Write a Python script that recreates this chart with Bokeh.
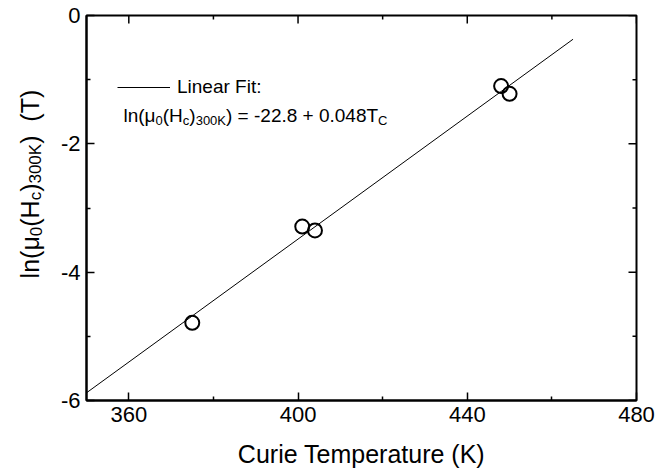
import math
from bokeh.plotting import figure
from bokeh.layouts import row
from bokeh.models import (Range1d, FixedTicker, Label, Legend, LegendItem,
                          CustomJSTickFormatter)
from bokeh.embed import file_html
from bokeh.resources import INLINE

# ---- data ----
curie_t = [375, 401, 404, 448, 450]
ln_hc = [-4.79, -3.29, -3.35, -1.10, -1.22]
fit_x = [350, 465]
fit_y = [-5.88, -0.37]

x_lo, x_hi = 350, 480
y_lo, y_hi = -6, 0
x_major = [360, 400, 440, 480]
x_minor = [380, 420, 460]
y_major = [0, -2, -4, -6]
y_minor = [-1, -3, -5]

FONT = "Liberation Sans"

# Arial / Liberation Sans advance widths (per 1000 em)
ADV = {"l": 222, "n": 556, "(": 333, ")": 333, "μ": 576, "H": 722, "c": 500,
       "K": 667, " ": 278, "=": 584, "-": 333, ".": 278, "+": 584, "T": 611,
       "C": 722}
for d in "0123456789":
    ADV[d] = 556


def text_width(s, size):
    return sum(ADV.get(ch, 556) for ch in s) * size / 1000.0


LEFT_W = 50
TOTAL_H = 474
FW, FH = 550, 385
p = figure(frame_width=FW, frame_height=FH, output_backend="svg",
           toolbar_location=None, x_range=Range1d(x_lo, x_hi), y_range=Range1d(y_lo, y_hi),
           min_border_left=86 - LEFT_W, min_border_top=15, min_border_right=19,
           min_border_bottom=TOTAL_H - 15 - FH)
p.xgrid.visible = False
p.ygrid.visible = False
p.outline_line_color = "black"
p.outline_line_width = 2
p.background_fill_color = "white"
p.border_fill_color = "white"


def style_axis(ax):
    ax.axis_line_color = "black"
    ax.axis_line_width = 2
    ax.major_tick_line_color = "black"
    ax.major_tick_line_width = 1.5
    ax.minor_tick_line_color = "black"
    ax.minor_tick_line_width = 1.5
    ax.major_tick_in = 8
    ax.major_tick_out = 0
    ax.minor_tick_in = 4
    ax.minor_tick_out = 0
    ax.major_label_text_font = FONT
    ax.major_label_text_font_size = "22px"
    ax.major_label_text_color = "black"
    ax.major_label_standoff = 6
    ax.formatter = CustomJSTickFormatter(code="return String(tick);")


p.xaxis.ticker = FixedTicker(ticks=x_major, minor_ticks=x_minor)
p.yaxis.ticker = FixedTicker(ticks=y_major, minor_ticks=y_minor)
style_axis(p.xaxis[0])
style_axis(p.yaxis[0])
p.xaxis.axis_label = "Curie Temperature (K)"
p.xaxis.axis_label_text_font = FONT
p.xaxis.axis_label_text_font_size = "25px"
p.xaxis.axis_label_text_font_style = "normal"
p.xaxis.axis_label_text_color = "black"
p.xaxis.axis_label_standoff = 15

# mirrored ticks on the top and right edges (half of each dash is clipped by the frame)
p.scatter(x_major, [y_hi] * len(x_major), marker="dash", size=16, angle=math.pi / 2,
          line_color="black", line_width=1.5)
p.scatter(x_minor, [y_hi] * len(x_minor), marker="dash", size=8, angle=math.pi / 2,
          line_color="black", line_width=1.5)
p.scatter([x_hi] * len(y_major), y_major, marker="dash", size=16,
          line_color="black", line_width=1.5)
p.scatter([x_hi] * len(y_minor), y_minor, marker="dash", size=8,
          line_color="black", line_width=1.5)

# ---- data ----
fit_r = p.line(fit_x, fit_y, line_color="black", line_width=1)
p.scatter(curie_t, ln_hc, marker="circle", size=14, fill_color=None,
          line_color="black", line_width=2)

legend = Legend(items=[LegendItem(label="Linear Fit:", renderers=[fit_r])],
                location=(31, 302), glyph_width=53, glyph_height=20, label_height=20,
                label_standoff=7, padding=0, margin=0, border_line_color=None,
                background_fill_alpha=0, label_text_font=FONT,
                label_text_font_size="19px", label_text_color="black")
p.add_layout(legend)


def rich_text(fig, pieces, anchor_x, anchor_y, start_x, start_y, size, sub_size,
              sub_drop, vertical=False):
    pos = 0.0
    for txt, is_sub in pieces:
        fs = sub_size if is_sub else size
        drop = sub_drop if is_sub else 0
        if txt.strip():
            if vertical:
                xo, yo, ang = start_x + drop, start_y + pos, math.pi / 2
            else:
                xo, yo, ang = start_x + pos, start_y - drop, 0
            fig.add_layout(Label(x=anchor_x, y=anchor_y, x_offset=xo, y_offset=yo,
                                 text=txt, angle=ang, text_font=FONT,
                                 text_font_size=f"{fs}px", text_color="black",
                                 text_align="left", text_baseline="alphabetic"))
        pos += text_width(txt, fs)
    return pos


eq_pieces = [("ln(μ", 0), ("0", 1), ("(H", 0), ("c", 1), (")", 0), ("300K", 1),
             (") = -22.8 + 0.048T", 0), ("C", 1)]
rich_text(p, eq_pieces, x_lo, y_hi, 37, -100, 19, 13, 5)

# ---- y-axis title in a narrow strip on the left ----
ylab = figure(width=LEFT_W, height=TOTAL_H, output_backend="svg", toolbar_location=None,
              x_range=Range1d(0, LEFT_W), y_range=Range1d(0, TOTAL_H), min_border=0,
              x_axis_type=None, y_axis_type=None)
ylab.outline_line_color = None
ylab.xgrid.visible = False
ylab.ygrid.visible = False
ylab.border_fill_color = "white"
ylab.background_fill_color = "white"

ylab_pieces = [("ln(μ", 0), ("0", 1), ("(H", 0), ("c", 1), (")", 0), ("300K", 1),
               (")", 0), ("  ", 0), ("(T)", 0)]
MAIN, SUB = 25, 17
ylen = sum(text_width(t, SUB if s else MAIN) for t, s in ylab_pieces)
frame_mid = TOTAL_H - (15 + FH / 2)
rich_text(ylab, ylab_pieces, 0, frame_mid, 29, -ylen / 2, MAIN, SUB, 6, vertical=True)

layout = row(ylab, p, spacing=0)
open("out.html", "w").write(file_html(layout, INLINE))
